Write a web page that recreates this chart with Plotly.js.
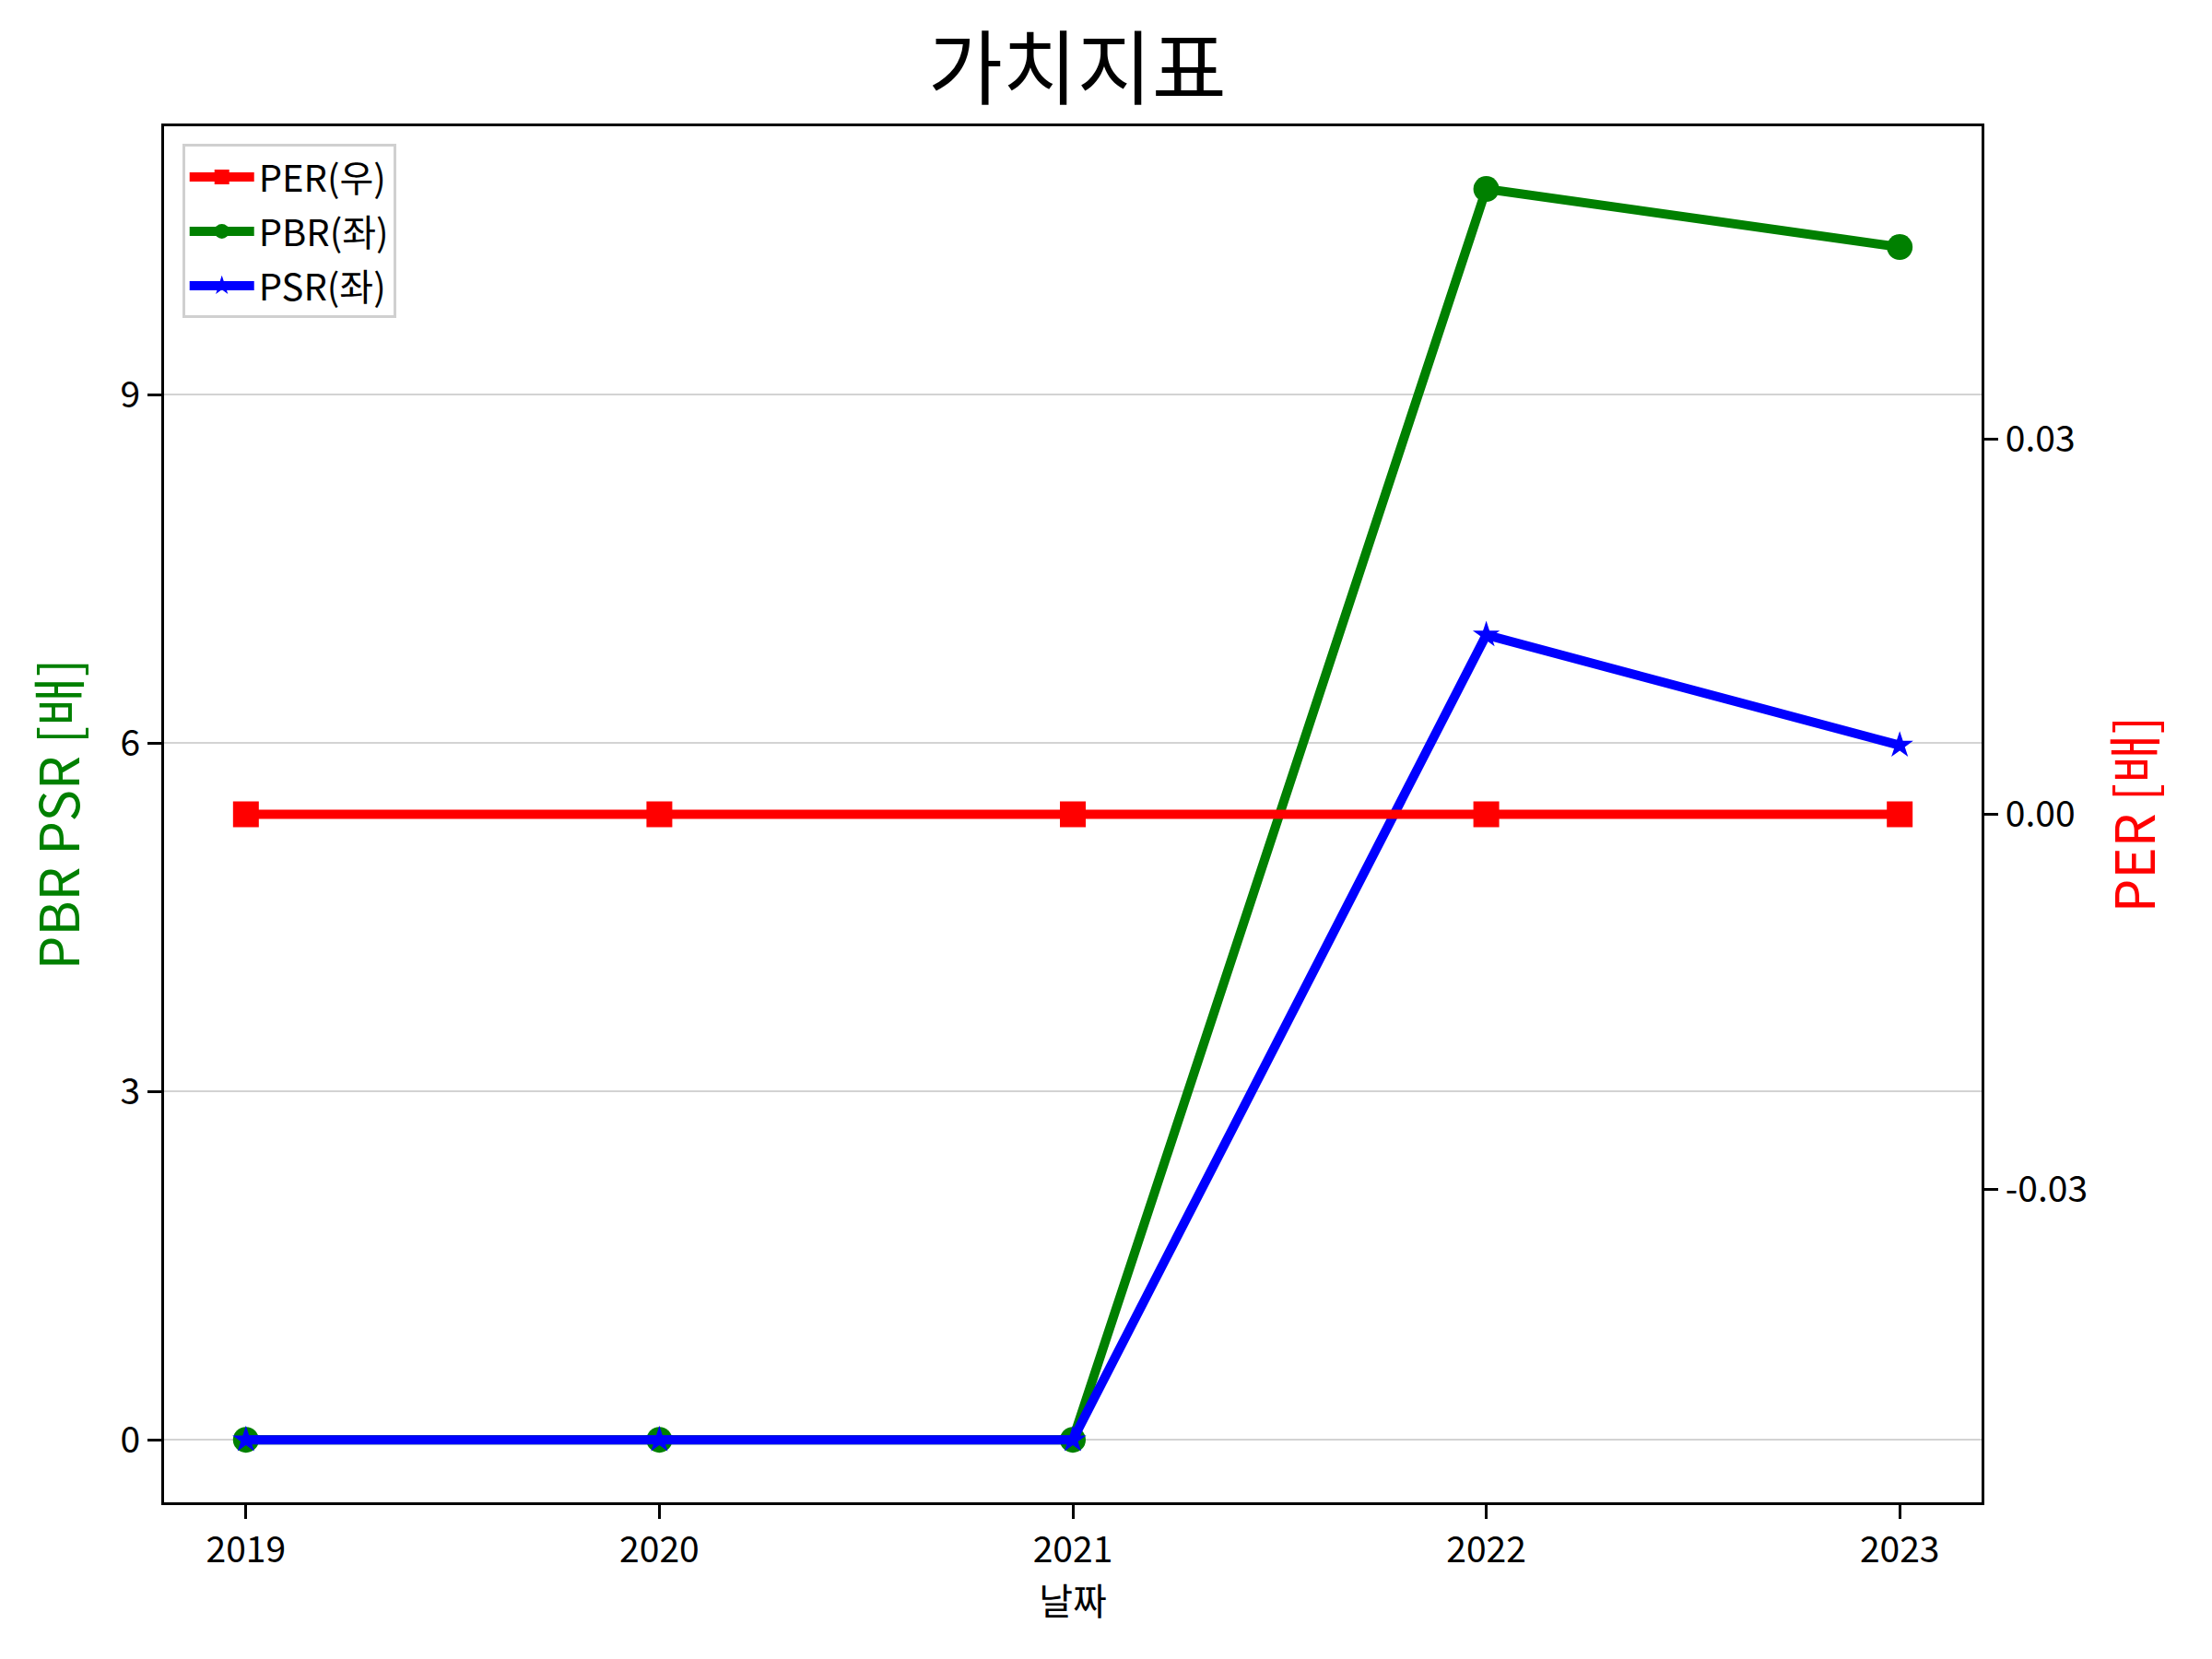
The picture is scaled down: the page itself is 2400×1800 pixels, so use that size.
<!DOCTYPE html>
<html>
<head>
<meta charset="utf-8">
<script src="https://cdn.plot.ly/plotly-3.0.1.min.js"></script>
<style>
body{margin:0;background:#fff}
#chart{width:2400px;height:1800px}
</style>
</head>
<body>
<div id="chart"></div>
<script>

let years=[2019,2020,2021,2022,2023]
let per=[0,0,0,0,0]
let pbr=[0,0,0,10.77,10.27]
let psr=[0,0,0,6.93,5.98]

let leftTicks=[0,3,6,9]
let rightTicks=[-0.03,0,0.03]
let rightLabels=["-0.03","0.00","0.03"]

let font="'Noto Sans CJK KR', 'Noto Sans', sans-serif"

let traces=[

{
x:years,y:per,name:"PER(우)",yaxis:"y2",legendgroup:"a",
mode:"lines+markers",
line:{color:"red",width:10},
marker:{symbol:"square",size:28,color:"red"}
},

{
x:years,y:pbr,name:"PBR(좌)",legendgroup:"b",
mode:"lines+markers",
line:{color:"green",width:10},
marker:{symbol:"circle",size:28,color:"green"}
},

{
x:years,y:psr,name:"PSR(좌)",legendgroup:"c",
mode:"lines+markers",
line:{color:"blue",width:10},
marker:{symbol:"star",size:22,color:"blue"}
}

]

let layout={

width:2400,
height:1800,
paper_bgcolor:"white",
plot_bgcolor:"white",
font:{family:font,size:39,color:"black"},
margin:{l:178,r:250,t:137,b:170},
showlegend:true,

title:{
text:"가치지표",
font:{size:88,color:"black"},
x:0.487,xanchor:"center",
y:0.958,yanchor:"middle",yref:"container"
},

xaxis:{
range:[2018.802,2023.198],
tickvals:years,
ticks:"outside",ticklen:15,tickwidth:3,tickcolor:"black",
showline:true,mirror:true,linecolor:"black",linewidth:3,
showgrid:false,zeroline:false,
tickfont:{size:39},
title:{text:"날짜",font:{size:40},standoff:10}
},

yaxis:{
range:[-0.5385,11.31],
tickvals:leftTicks,
ticks:"outside",ticklen:15,tickwidth:3,tickcolor:"black",
showline:true,linecolor:"black",linewidth:3,
showgrid:true,gridcolor:"#d3d3d3",gridwidth:2,
zeroline:false,
tickfont:{size:39},
title:{text:"PBR PSR [배]",font:{size:58,color:"green"},standoff:26}
},

yaxis2:{
overlaying:"y",side:"right",
range:[-0.055,0.055],
tickvals:rightTicks,ticktext:rightLabels,
ticks:"outside",ticklen:15,tickwidth:3,tickcolor:"black",
showline:true,linecolor:"black",linewidth:3,
showgrid:false,zeroline:false,
tickfont:{size:39},
title:{text:"PER [배]",font:{size:58,color:"red"},standoff:34}
},

legend:{
x:0.01,y:0.987,xanchor:"left",yanchor:"top",
bgcolor:"white",bordercolor:"#d0d0d0",borderwidth:3,
font:{size:40},
tracegroupgap:4,
itemwidth:70
}

}

Plotly.newPlot("chart",traces,layout,{staticPlot:true})

</script>
</body>
</html>
